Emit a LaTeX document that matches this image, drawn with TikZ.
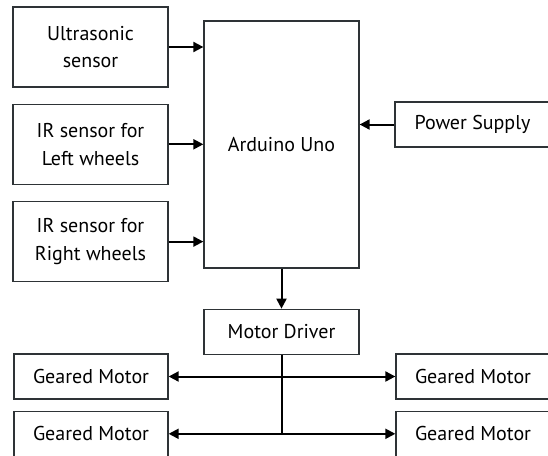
\documentclass[tikz,border=0pt]{standalone}
\usepackage{fontspec}
\setmainfont{PT Sans}
\usetikzlibrary{arrows.meta,positioning}
\definecolor{bdline}{HTML}{2E3336}

\begin{document}
\begin{tikzpicture}[
  x=1pt,y=-1pt,
  node distance=16pt and 36pt,
  every node/.style={font=\fontsize{20pt}{27.5pt}\selectfont,align=center},
  block/.style={draw=bdline,line width=1.3pt,minimum width=155pt,inner sep=0pt},
  tall/.style={block,minimum height=80pt},
  flat/.style={block,minimum height=45pt},
  arrow/.style={-{Triangle[length=10pt,width=10pt]},line width=2pt},
  twoway/.style={{Triangle[length=10pt,width=10pt]}-{Triangle[length=10pt,width=10pt]},line width=2pt}
]
\useasboundingbox (0,0) rectangle (548,455);
\clip (0,0) rectangle (548,455);
% sensors and controller
\node[tall] (ultra) at (90.5,47) {Ultrasonic\\sensor};
\node[tall,below=of ultra] (irleft) {IR sensor for\\Left wheels};
\node[tall,below=of irleft] (irright) {IR sensor for\\Right wheels};
\node[block,minimum height=247pt] (arduino) at (281.5,144.5) {Arduino Uno};
\node[flat] (power) at (472.5,124.5) {Power Supply};
% driver and motors
\node[flat,below=40pt of arduino] (driver) {Motor Driver};
\node[flat,minimum width=154pt] (motorlt) at (91,376.5) {Geared Motor};
\node[flat,minimum width=154pt,below=11pt of motorlt] (motorlb) {Geared Motor};
\node[flat,minimum width=154pt] (motorrt) at (473,376.5) {Geared Motor};
\node[flat,minimum width=154pt,below=11pt of motorrt] (motorrb) {Geared Motor};
\draw[arrow] (ultra) -- (ultra -| arduino.west);
\draw[arrow] (irleft) -- (irleft -| arduino.west);
\draw[arrow] (irright) -- (irright -| arduino.west);
\draw[arrow] (power) -- (power -| arduino.east);
\draw[arrow] (arduino) -- (driver);
\draw[twoway] (motorlt) -- (motorrt);
\draw[twoway] (motorlb) -- (motorrb);
\draw[line width=2pt] (driver) -- (driver |- motorlb);
\end{tikzpicture}
\end{document}
